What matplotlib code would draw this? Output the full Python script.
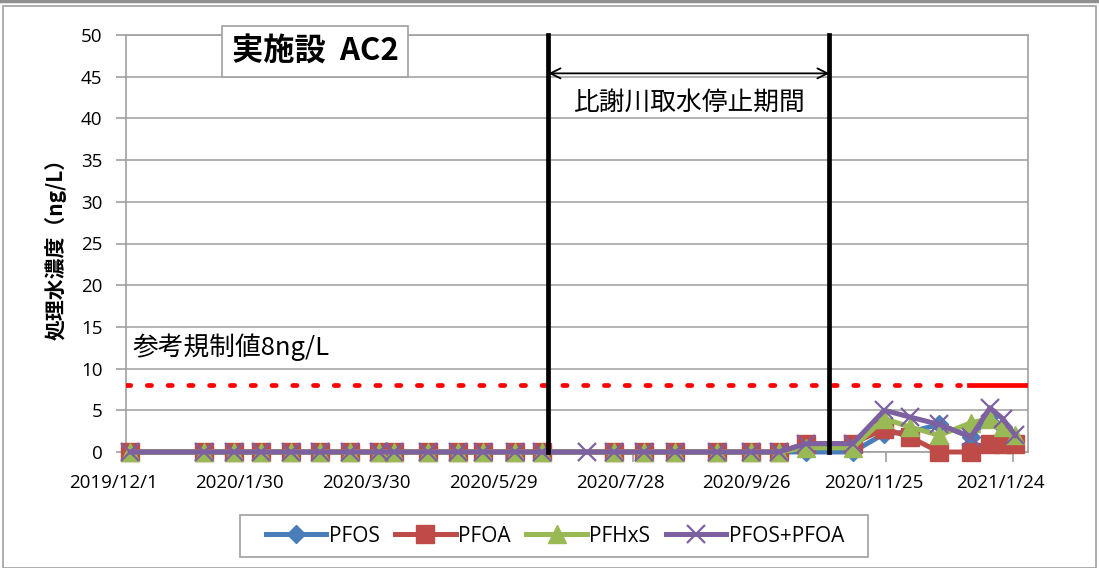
import datetime as dt
import numpy as np
import matplotlib
matplotlib.use("Agg")
import matplotlib.pyplot as plt
import matplotlib.transforms as mtrans
from matplotlib.patches import Rectangle
from matplotlib.lines import Line2D

plt.rcParams['font.family'] = ['Noto Sans CJK JP', 'DejaVu Sans']

# ---- data ----
dates = ["2019-12-03", "2020-01-07", "2020-01-21", "2020-02-03", "2020-02-17",
         "2020-03-02", "2020-03-16", "2020-03-30", "2020-04-06", "2020-04-22",
         "2020-05-06", "2020-05-18", "2020-06-02", "2020-06-15", "2020-07-06",
         "2020-07-19", "2020-08-02", "2020-08-17", "2020-09-06", "2020-09-22",
         "2020-10-05", "2020-10-18", "2020-11-09", "2020-11-24", "2020-12-06",
         "2020-12-20", "2021-01-04", "2021-01-13", "2021-01-19", "2021-01-25"]
N = None
pfos = [0, 0, 0, 0, 0, 0, 0, 0, 0, 0, 0, 0, 0, 0, N, 0, 0, 0, 0, 0, 0, 0, 0,
        2.2, 2.4, 3.3, 1.8, 4.3, 3.0, 1.0]
pfoa = [0, 0, 0, 0, 0, 0, 0, 0, 0, 0, 0, 0, 0, 0, N, 0, 0, 0, 0, 0, 0, 1.0, 1.0,
        2.8, 1.8, 0, 0, 1.0, 1.0, 1.0]
pfhxs = [0, 0, 0, 0, 0, 0, 0, 0, 0, 0, 0, 0, 0, 0, N, 0, 0, 0, 0, 0, 0, 0.5, 0.5,
         4.0, 3.0, 2.0, 3.5, 4.0, 3.0, 2.0]
pfos_pfoa = [0, 0, 0, 0, 0, 0, 0, 0, 0, 0, 0, 0, 0, 0, 0, 0, 0, 0, 0, 0, 0, 1.0, 1.0,
             5.0, 4.2, 3.3, 1.8, 5.3, 4.0, 2.0]

series_names = ["PFOS", "PFOA", "PFHxS", "PFOS+PFOA"]
guide_value = 8
guide_dotted_span = ["2019-12-01", "2020-12-30"]
guide_solid_span = ["2021-01-03", "2021-01-31"]
stop_period = ["2020-06-18", "2020-10-29"]
x_range = ["2019-12-01", "2021-01-31"]
tick_dates = ["2019-12-01", "2020-01-30", "2020-03-30", "2020-05-29",
              "2020-07-28", "2020-09-26", "2020-11-25", "2021-01-24"]
tick_labels = ["2019/12/1", "2020/1/30", "2020/3/30", "2020/5/29",
               "2020/7/28", "2020/9/26", "2020/11/25", "2021/1/24"]

def d(s):
    return dt.datetime.strptime(s, "%Y-%m-%d")

X = np.array([d(s) for s in dates])

W, H = 1099, 568
fig = plt.figure(figsize=(W / 100, H / 100), dpi=100)

# outer frame
fig.add_artist(Rectangle((3 / W, 0), (W - 6) / W, (H - 6) / H, transform=fig.transFigure,
                         fill=False, edgecolor='#a0a0a0', lw=1.2))
fig.add_artist(Line2D([0, 1], [1 - 1 / H, 1 - 1 / H], transform=fig.transFigure,
                      color='#909090', lw=2.5))

ax = fig.add_axes([126 / W, 1 - 452 / H, (1028 - 126) / W, (452 - 35) / H])
ax.set_xlim(d(x_range[0]), d(x_range[1]))
ax.set_ylim(0, 50)
ax.set_yticks(range(0, 51, 5))
ax.yaxis.grid(True, color='#a6a6a6', lw=1.2)
ax.set_axisbelow(True)
for s in ax.spines.values():
    s.set_color('#a0a0a0')
    s.set_linewidth(1.2)
ax.set_xticks([d(s) for s in tick_dates])
ax.set_xticklabels(tick_labels)
ax.tick_params(axis='both', colors='#a0a0a0', labelcolor='black', labelsize=13.5,
               length=7, width=1.2)
ax.tick_params(axis='x', pad=9)
ax.tick_params(axis='y', pad=10)
shift = mtrans.ScaledTranslation(-13 / 100, 0, fig.dpi_scale_trans)
for lab in ax.get_xticklabels():
    lab.set_transform(lab.get_transform() + shift)
for lab in ax.get_xticklabels() + ax.get_yticklabels():
    lab.set_family(['Open Sans', 'DejaVu Sans'])
ax.set_ylabel("処理水濃度（ng/L）", fontsize=15, fontweight='bold', labelpad=10)

# guide value
ax.plot([d(s) for s in guide_dotted_span], [guide_value] * 2, color='#ff0000', lw=3.4,
        linestyle=(0, (0.9, 3.5)), dash_capstyle='round', zorder=3)
ax.plot([d(s) for s in guide_solid_span], [guide_value] * 2, color='#ff0000', lw=3.4,
        zorder=3)
ax.text(d("2019-12-04"), 12.6, "参考規制値8ng/L", fontsize=18.5, va='center', ha='left')

# stop period
for s in stop_period:
    ax.plot([d(s), d(s)], [0, 50], color='black', lw=3.4, zorder=6, clip_on=False)
ax.annotate("", xy=(d(stop_period[0]), 45.4), xytext=(d(stop_period[1]), 45.4),
            arrowprops=dict(arrowstyle='<->', color='black', lw=1.3,
                            shrinkA=0, shrinkB=0, mutation_scale=18))
mid = d(stop_period[0]) + (d(stop_period[1]) - d(stop_period[0])) / 2
ax.text(mid, 41.9, "比謝川取水停止期間", fontsize=18.5, ha='center', va='center')

styles = [
    dict(color='#4a7ebb', marker='D', ms=9),
    dict(color='#be4b48', marker='s', ms=13),
    dict(color='#98b954', marker='^', ms=13),
    dict(color='#7d60a0', marker='x', ms=13, mew=1.6),
]
for vals, name, st in zip([pfos, pfoa, pfhxs, pfos_pfoa], series_names, styles):
    v = np.array([np.nan if x is None else x for x in vals], dtype=float)
    m = ~np.isnan(v)
    kw = dict(st)
    ax.plot(X[m], v[m], lw=3.6, label=name, clip_on=False, zorder=4,
            markeredgecolor=kw['color'], **kw)

# legend with manual frame
fig.add_artist(Rectangle((240 / W, 1 - 557 / H), (868 - 240) / W, 42 / H,
                         transform=fig.transFigure, fill=True, facecolor='white',
                         edgecolor='#a0a0a0', lw=1.2, zorder=2))
leg = fig.legend(loc='center', bbox_to_anchor=(555 / W, 1 - 536 / H), ncol=4,
                 frameon=False, handlelength=2.9, columnspacing=0.75, handletextpad=0.12,
                 borderpad=0.3, borderaxespad=0,
                 prop={'family': ['Open Sans', 'DejaVu Sans'], 'size': 15})
leg.set_zorder(3)

# title box
fig.text(315 / W, 1 - 51.5 / H, "実施設  AC2", fontsize=22.5, fontweight='bold',
         ha='center', va='center',
         bbox=dict(boxstyle='square,pad=0.3', facecolor='white', edgecolor='#a0a0a0', lw=1.2))

fig.savefig("out.png", dpi=100)
